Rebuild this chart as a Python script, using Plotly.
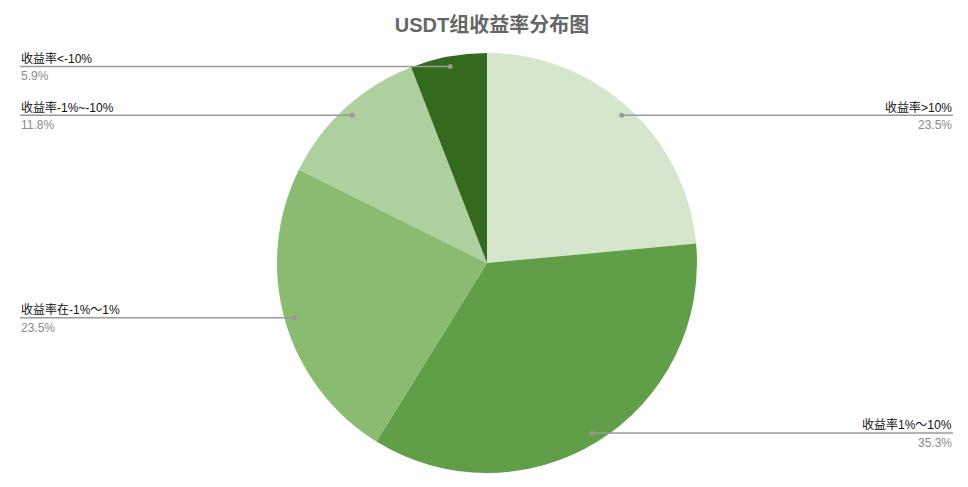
import numpy as np
import plotly.graph_objects as go

# 数据: 各收益率区间的人数 (17 人)
labels = ["收益率>10%", "收益率1%～10%", "收益率在-1%～1%", "收益率-1%~-10%", "收益率<-10%"]
counts = [4, 6, 4, 2, 1]
colors = ["#d5e6cd", "#609e47", "#8abb71", "#aed09e", "#336a1e"]

# 页面 body 默认有 8px 边距, 图本身缩小 16px
W, H = 952, 471
cx, cy, R = 479, 255, 210      # 饼图圆心/半径 (像素)
left_x, right_x = 12, 945      # 引线终点

fig = go.Figure()

fig.add_trace(go.Pie(
    labels=labels,
    values=counts,
    sort=False,
    direction="clockwise",
    rotation=0,
    marker=dict(colors=colors, line=dict(width=0)),
    textinfo="none",
    hoverinfo="label+percent",
    showlegend=False,
    domain=dict(x=[(cx - R) / W, (cx + R) / W], y=[(H - cy - R) / H, (H - cy + R) / H]),
))

# 引线: 按数据计算每个扇区中线角度
vals = np.array(counts, dtype=float)
frac = vals / vals.sum()
mid = (np.cumsum(frac) - frac / 2) * 2 * np.pi
rd = R * 0.952
dot_x = cx + rd * np.sin(mid)
dot_y = cy - rd * np.cos(mid)

shapes = []
annotations = []
for i, lab in enumerate(labels):
    right = dot_x[i] > cx
    end_x = right_x if right else left_x
    shapes.append(dict(
        type="line", xref="x", yref="y", layer="above",
        x0=dot_x[i], x1=end_x, y0=dot_y[i], y1=dot_y[i],
        line=dict(color="#9a9a9a", width=1.5),
    ))
    shapes.append(dict(
        type="circle", xref="x", yref="y", layer="above",
        x0=dot_x[i] - 2.5, x1=dot_x[i] + 2.5, y0=dot_y[i] - 2.5, y1=dot_y[i] + 2.5,
        fillcolor="#999999", line=dict(width=0),
    ))
    anchor = "right" if right else "left"
    annotations.append(dict(
        x=end_x, y=dot_y[i] + 1.5, xref="x", yref="y",
        text=lab, showarrow=False, xanchor=anchor, yanchor="bottom",
        font=dict(size=12, color="#111111"),
        xshift=1 if right else -1,
    ))
    annotations.append(dict(
        x=end_x, y=dot_y[i] + 1, xref="x", yref="y",
        text="%.1f%%" % (frac[i] * 100), showarrow=False, xanchor=anchor, yanchor="top",
        font=dict(size=12, color="#8a8a8a"),
        xshift=1 if right else -1,
    ))

fig.update_layout(
    width=W,
    height=H,
    margin=dict(l=0, r=0, t=0, b=0),
    paper_bgcolor="white",
    plot_bgcolor="rgba(0,0,0,0)",
    font=dict(family="Liberation Sans, Arial, Noto Sans CJK SC", size=12),
    title=dict(
        text="<b>USDT组收益率分布图</b>",
        x=0.5 + 8 / W, xanchor="center",
        y=1 - 17 / H, yanchor="middle", yref="container",
        font=dict(size=20, color="#666666"),
    ),
    xaxis=dict(range=[0, W], visible=False, fixedrange=True),
    yaxis=dict(range=[H, 0], visible=False, fixedrange=True),
    shapes=shapes,
    annotations=annotations,
)

fig.write_html("out.html")
